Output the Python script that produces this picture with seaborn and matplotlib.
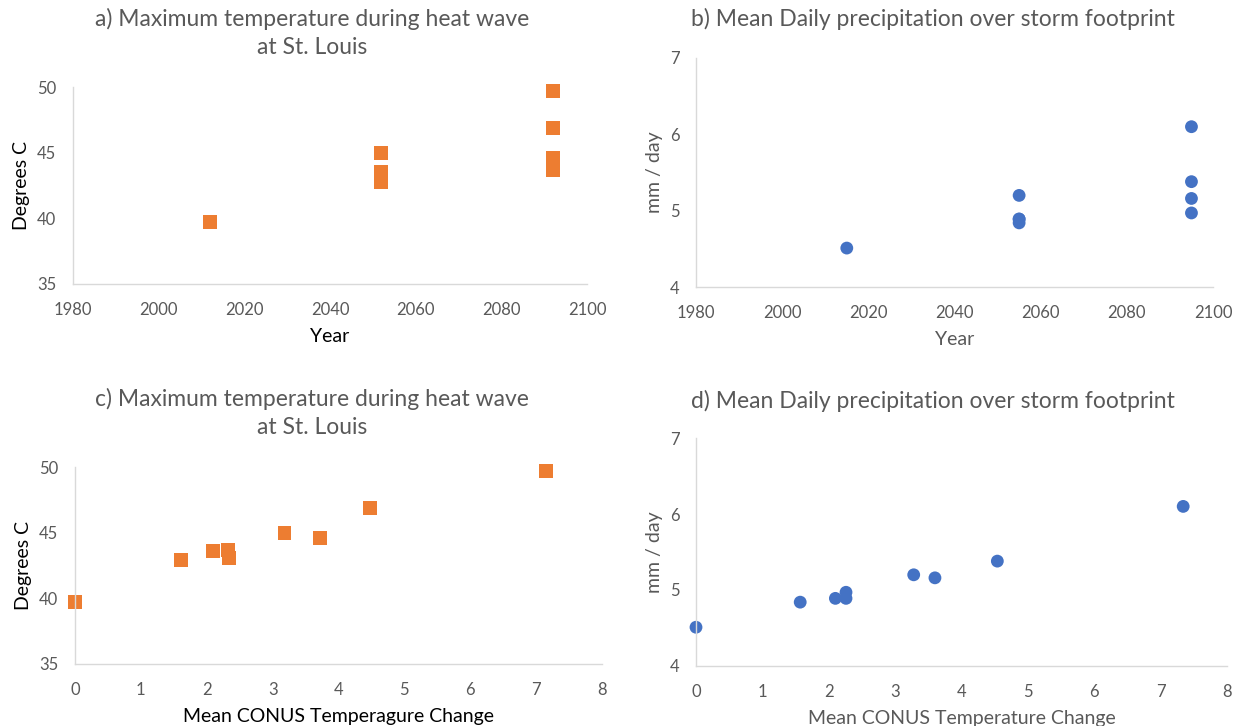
import matplotlib
matplotlib.use("Agg")
import matplotlib.pyplot as plt
import seaborn as sns
import pandas as pd

# ---- data ----
years_temp = [2012, 2052, 2052, 2052, 2052, 2092, 2092, 2092, 2092]
max_temp = [39.7, 45.0, 43.5, 43.0, 42.8, 49.7, 46.9, 44.6, 43.7]

years_precip = [2015, 2055, 2055, 2055, 2055, 2095, 2095, 2095, 2095]
precip = [4.51, 5.20, 4.89, 4.89, 4.84, 6.10, 5.38, 5.16, 4.97]

dT_temp = [0.0, 1.61, 2.09, 2.32, 2.34, 3.18, 3.72, 4.48, 7.15]
temp_vs_dT = [39.7, 42.9, 43.6, 43.7, 43.1, 45.0, 44.6, 46.9, 49.7]

dT_precip = [0.0, 1.57, 2.10, 2.26, 2.26, 3.28, 3.60, 4.54, 7.34]
precip_vs_dT = [4.51, 4.84, 4.89, 4.97, 4.89, 5.20, 5.16, 5.38, 6.10]

year_ticks = [1980, 2000, 2020, 2040, 2060, 2080, 2100]
temp_ticks = [35, 40, 45, 50]
precip_ticks = [4, 5, 6, 7]
dT_ticks = [0, 1, 2, 3, 4, 5, 6, 7, 8]

title_a = "a) Maximum temperature during heat wave\nat St. Louis"
title_b = "b) Mean Daily precipitation over storm footprint"
title_c = "c) Maximum temperature during heat wave\nat St. Louis"
title_d = "d) Mean Daily precipitation over storm footprint"

sns.set_theme(style="white")
plt.rcParams['font.family'] = ['Lato', 'DejaVu Sans']

ORANGE = "#ED7D31"
BLUE = "#4472C4"
GRAY = "#595959"
AXIS = "#D9D9D9"

W, H = 1246, 726
fig = plt.figure(figsize=(W / 100, H / 100), dpi=100)
fig.patch.set_facecolor("white")


def rect(l, r, t, b):
    return [l / W, 1 - b / H, (r - l) / W, (b - t) / H]


ax_a = fig.add_axes(rect(73, 587, 87, 284))
ax_b = fig.add_axes(rect(696, 1213, 58, 287))
ax_c = fig.add_axes(rect(75, 602, 467, 664))
ax_d = fig.add_axes(rect(696, 1227, 438, 666))

df_a = pd.DataFrame({"x": years_temp, "y": max_temp})
df_b = pd.DataFrame({"x": years_precip, "y": precip})
df_c = pd.DataFrame({"x": dT_temp, "y": temp_vs_dT})
df_d = pd.DataFrame({"x": dT_precip, "y": precip_vs_dT})

sq = dict(marker="s", color=ORANGE, s=100, edgecolor="none", linewidth=0, clip_on=False)
ci = dict(marker="o", color=BLUE, s=85, edgecolor="none", linewidth=0, clip_on=False)

sns.scatterplot(data=df_a, x="x", y="y", ax=ax_a, **sq)
sns.scatterplot(data=df_b, x="x", y="y", ax=ax_b, **ci)
sns.scatterplot(data=df_c, x="x", y="y", ax=ax_c, **sq)
sns.scatterplot(data=df_d, x="x", y="y", ax=ax_d, **ci)


def style(ax, xt, yt, xlabel, ylabel, label_color):
    ax.set_xlim(xt[0], xt[-1])
    ax.set_ylim(yt[0], yt[-1])
    ax.set_xticks(xt)
    ax.set_yticks(yt)
    ax.set_xticklabels([str(v) for v in xt])
    ax.set_yticklabels([str(v) for v in yt])
    for s in ["top", "right"]:
        ax.spines[s].set_visible(False)
    for s in ["left", "bottom"]:
        ax.spines[s].set_color(AXIS)
        ax.spines[s].set_linewidth(1.0)
    ax.tick_params(axis="both", length=0, labelsize=12, colors=GRAY)
    ax.tick_params(axis="x", pad=13)
    ax.tick_params(axis="y", pad=12)
    ax.set_xlabel(xlabel, fontsize=14, color=label_color, labelpad=7)
    ax.set_ylabel(ylabel, fontsize=14, color=label_color, labelpad=5)
    ax.grid(False)
    ax.set_facecolor("white")


style(ax_a, year_ticks, temp_ticks, "Year", "Degrees C", "black")
style(ax_b, year_ticks, precip_ticks, "Year", "mm / day", GRAY)
style(ax_c, dT_ticks, temp_ticks, "Mean CONUS Temperagure Change", "Degrees C", "black")
style(ax_d, dT_ticks, precip_ticks, "Mean CONUS Temperature Change", "mm / day", GRAY)

TS = 16.5
fig.text(312 / W, 1 - 8 / H, title_a, ha="center", va="top", fontsize=TS,
         color=GRAY, linespacing=1.38)
fig.text(933 / W, 1 - 8 / H, title_b, ha="center", va="top", fontsize=TS,
         color=GRAY)
fig.text(312 / W, 1 - 388 / H, title_c, ha="center", va="top", fontsize=TS,
         color=GRAY, linespacing=1.38)
fig.text(933 / W, 1 - 390 / H, title_d, ha="center", va="top", fontsize=TS,
         color=GRAY)

fig.savefig("out.png", dpi=100, facecolor="white")
